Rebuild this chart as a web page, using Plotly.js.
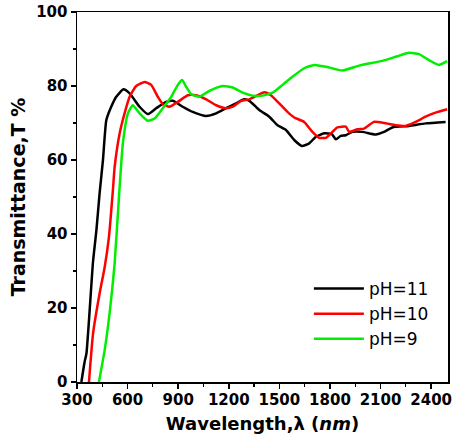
<!DOCTYPE html>
<html>
<head>
<meta charset="utf-8">
<script src="https://cdn.plot.ly/plotly-3.0.1.min.js"></script>
<style>html,body{margin:0;padding:0;background:#fff;}#chart{width:453px;height:443px;}</style>
</head>
<body>
<div id="chart"></div>
<script>
const wl11 = [326,345,356,395,415,434,454,474,503,533,576,612,671,720,770,829,868,927,986,1066,1125,1184,1243,1292,1322,1381,1440,1489,1539,1588,1634,1677,1717,1766,1811,1835,1864,1894,1933,1992,2071,2121,2170,2269,2367,2486];
const t11  = [0,5.4,7.7,32.5,41,51,60,70.8,74.4,77.1,79.1,78,74.4,72.4,74,75.7,76,74.4,73,71.9,72.6,74,75.3,76.4,76,73.5,71.7,69.4,68.1,65.4,63.8,64.5,66.3,67.2,67,65.6,66.5,66.7,67.6,67.6,66.9,67.6,68.8,69.2,69.9,70.3];

const wl10 = [371,395,434,464,489,513,523,553,582,612,651,701,740,779,809,848,898,957,1006,1066,1125,1184,1223,1273,1322,1371,1411,1450,1499,1548,1588,1647,1696,1736,1776,1815,1844,1894,1914,1963,2003,2061,2121,2190,2249,2308,2367,2426,2495];
const t10  = [0,13,23.9,31,39,51.9,58,67.2,72.6,77.1,80,81.1,80.3,77.1,75.1,74.4,75.7,77.5,77.5,76.4,74.8,74,74.4,76,76.4,77.5,78.3,77.5,75.3,73,71.5,70.3,67.6,66,66,67.6,68.8,69,67.6,68.3,68.5,70.3,70,69.4,69.2,70.3,71.7,72.8,73.7];

const wl9 = [430,464,493,523,551,572,602,631,671,720,760,809,859,898,924,947,977,1026,1085,1164,1223,1282,1341,1401,1460,1519,1578,1647,1707,1776,1874,1973,2111,2190,2269,2328,2387,2446,2495];
const t9  = [0,8.6,18.5,32,51.5,64.5,72.6,74.8,72.6,70.6,71.2,74,77.1,80.3,81.6,79.8,77.8,77.1,78.7,80,79.6,78.2,77.4,77.4,78.2,80.3,82.5,84.8,85.7,85.2,84.2,85.5,86.8,87.9,89,88.6,87,85.7,86.7];

const seriesNames = ['pH=11','pH=10','pH=9'];
const xTicks = [300,600,900,1200,1500,1800,2100,2400];
const yTicks = [0,20,40,60,80,100];

const mk = (x,y,name,color) => ({x:x,y:y,name:name,type:'scatter',mode:'lines',
  line:{color:color,width:2.5,shape:'spline',smoothing:0.5}});

const data = [
  mk(wl11,t11,seriesNames[0],'#000000'),
  mk(wl10,t10,seriesNames[1],'#ff0000'),
  mk(wl9,t9,seriesNames[2],'#00ee00')
];

const tickFont = {family:'DejaVu Sans', size:15, color:'#000', weight:'bold'};

const layout = {
  width:453, height:443,
  margin:{l:77,r:5,t:12,b:61},
  paper_bgcolor:'#fff', plot_bgcolor:'#fff',
  showlegend:true,
  legend:{x:0.625,y:0.30,xanchor:'left',yanchor:'top',bgcolor:'rgba(0,0,0,0)',
    font:{family:'DejaVu Sans',size:17,color:'#000'},itemwidth:50,tracegroupgap:0},
  xaxis:{range:[300,2500],tickmode:'array',tickvals:xTicks,ticktext:xTicks.map(String),
    ticks:'outside',ticklen:5,tickwidth:1.5,tickcolor:'#000',ticklabelstandoff:-2,
    minor:{dtick:150,ticks:'outside',ticklen:3,tickwidth:1.2,tickcolor:'#000'},
    showline:true,linecolor:'#000',linewidth:1.5,mirror:true,showgrid:false,zeroline:false,
    tickfont:tickFont,
    title:{text:'<b>Wavelength,λ (<i>nm</i>)</b>',font:{family:'DejaVu Sans',size:18,color:'#000'},standoff:10}},
  yaxis:{range:[0,100],tickmode:'array',tickvals:yTicks,ticktext:yTicks.map(String),
    ticks:'outside',ticklen:5,tickwidth:1.5,tickcolor:'#000',
    minor:{dtick:10,ticks:'outside',ticklen:3,tickwidth:1.2,tickcolor:'#000'},
    showline:true,linecolor:'#000',linewidth:1.5,mirror:true,showgrid:false,zeroline:false,
    tickfont:tickFont,
    title:{text:'<b>Transmittance,T %</b>',font:{family:'DejaVu Sans',size:19,color:'#000'},standoff:5}}
};

Plotly.newPlot('chart',data,layout,{displayModeBar:false,staticPlot:true});
</script>
</body>
</html>
